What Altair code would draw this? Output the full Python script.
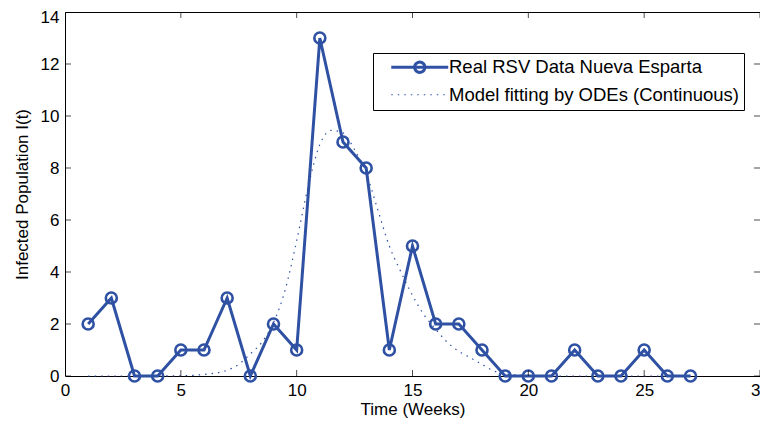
import altair as alt
import pandas as pd

# ---------------- data ----------------
weeks = list(range(1, 28))
real_cases = [2, 3, 0, 0, 1, 1, 3, 0, 2, 1, 13, 9, 8, 1, 5, 2, 2, 1, 0, 0, 0, 1, 0, 0, 1, 0, 0]

model_t = [1, 2, 3, 4, 5, 6, 7, 7.5, 8, 8.5, 9, 9.5, 10, 10.5, 11, 11.5, 12, 12.5,
           13, 13.5, 14, 14.5, 15, 15.5, 16, 16.5, 17, 17.5, 18, 18.5, 19, 20,
           21, 22, 23, 24, 25, 26, 27]
model_v = [0, 0, 0, 0, 0.01, 0.06, 0.22, 0.45, 0.85, 1.3, 2.05, 3.3, 5.2, 7.3, 8.9,
           9.45, 9.35, 8.7, 7.8, 6.4, 5.0, 4.0, 3.1, 2.35, 1.8, 1.3, 0.95, 0.7,
           0.45, 0.2, 0.08, 0.02, 0, 0, 0, 0, 0, 0, 0]

x_ticks = [0, 5, 10, 15, 20, 25, 30]
y_ticks = [0, 2, 4, 6, 8, 10, 12, 14]
x_edges = [0, 30]
y_edges = [0, 14]

REAL = "Real RSV Data Nueva Esparta"
MODEL = "Model fitting by ODEs (Continuous)"
X_TITLE = "Time (Weeks)"
Y_TITLE = "Infected Population I(t)"

BLUE = "#2F51A3"
FONT = "Liberation Sans"
DOTS = [1.5, 5]

real_df = pd.DataFrame({"t": weeks, "v": real_cases, "s": REAL})
model_df = pd.DataFrame({"t": model_t, "v": model_v, "s": MODEL})
xt_df = pd.DataFrame([{"t": t, "v": e} for t in x_ticks for e in y_edges])
yt_df = pd.DataFrame([{"t": e, "v": v} for v in y_ticks for e in x_edges])

xs = alt.Scale(domain=[0, 30], nice=False, zero=False)
ys = alt.Scale(domain=[0, 14], nice=False, zero=False)

x_axis = alt.Axis(values=x_ticks, domain=False, ticks=False, tickSize=0, grid=False,
                  labelPadding=6, titlePadding=3, labelFlush=False, labelOverlap=False)
y_axis = alt.Axis(values=y_ticks, domain=False, ticks=False, tickSize=0, grid=False,
                  labelPadding=6, titlePadding=9, labelOverlap=False,
                  labelOffset=alt.condition("datum.value == 14", alt.value(5), alt.value(0)))


def xenc():
    return alt.X("t:Q", scale=xs, axis=x_axis, title=X_TITLE)


def yenc():
    return alt.Y("v:Q", scale=ys, axis=y_axis, title=Y_TITLE)


# legend symbols: solid line through an open circle / dotted line
REAL_PATH = "M-4,0H4M0.72,0A0.72,0.72,0,1,1,-0.72,0A0.72,0.72,0,1,1,0.72,0"
MODEL_PATH = "M-4,0H4"

legend = alt.Legend(
    title=None, orient="none", legendX=308, legendY=41,
    strokeColor="black", fillColor="white", padding=5, cornerRadius=0,
    labelFont=FONT, labelFontSize=18.5, labelColor="black", labelLimit=500,
    symbolSize=203, symbolOffset=32.5, labelOffset=20, rowPadding=6.5,
    symbolStrokeColor=BLUE, symbolFillColor="transparent", symbolOpacity=1,
)
dom = [REAL, MODEL]
shape_scale = alt.Scale(domain=dom, range=[REAL_PATH, MODEL_PATH])
dash_scale = alt.Scale(domain=dom, range=[[1, 0], DOTS])
width_scale = alt.Scale(domain=dom, range=[3, 1.2])

# legend-only layer (no rows drawn): carries the series key for the legend
legend_layer = alt.Chart(pd.concat([real_df, model_df])).transform_filter(
    "false"
).mark_point(color=BLUE, filled=False, size=203, opacity=1).encode(
    x=xenc(), y=yenc(),
    shape=alt.Shape("s:N", scale=shape_scale, legend=legend),
    strokeDash=alt.StrokeDash("s:N", scale=dash_scale, legend=legend),
    strokeWidth=alt.StrokeWidth("s:N", scale=width_scale, legend=legend),
)

model_line = alt.Chart(model_df).mark_line(
    color=BLUE, strokeWidth=1.2, strokeDash=DOTS, interpolate="monotone"
).encode(x=xenc(), y=yenc())
real_line = alt.Chart(real_df).mark_line(color=BLUE, strokeWidth=3).encode(
    x=xenc(), y=yenc()
)
real_pts = alt.Chart(real_df).mark_point(
    color=BLUE, filled=False, size=121, strokeWidth=2.6, opacity=1
).encode(x=xenc(), y=yenc())
xticks = alt.Chart(xt_df).mark_tick(
    orient="vertical", size=12, thickness=1, color="black", clip=True
).encode(x=xenc(), y=yenc())
yticks = alt.Chart(yt_df).mark_tick(
    orient="horizontal", size=12, thickness=1, color="black", clip=True
).encode(x=xenc(), y=yenc())

chart = alt.layer(real_line, model_line, real_pts, xticks, yticks, legend_layer).properties(
    width=695, height=364,
    autosize=alt.AutoSizeParams(type="none"),
    padding={"left": 57, "top": 4, "right": 0, "bottom": 43},
    background="white",
).configure_view(
    stroke="black", strokeWidth=1
).configure_axis(
    labelFont=FONT, titleFont=FONT, labelFontSize=17, titleFontSize=17,
    labelColor="black", titleColor="black", titleFontWeight="normal",
)

chart.save("out.html", embed_options={"renderer": "svg", "actions": False})
